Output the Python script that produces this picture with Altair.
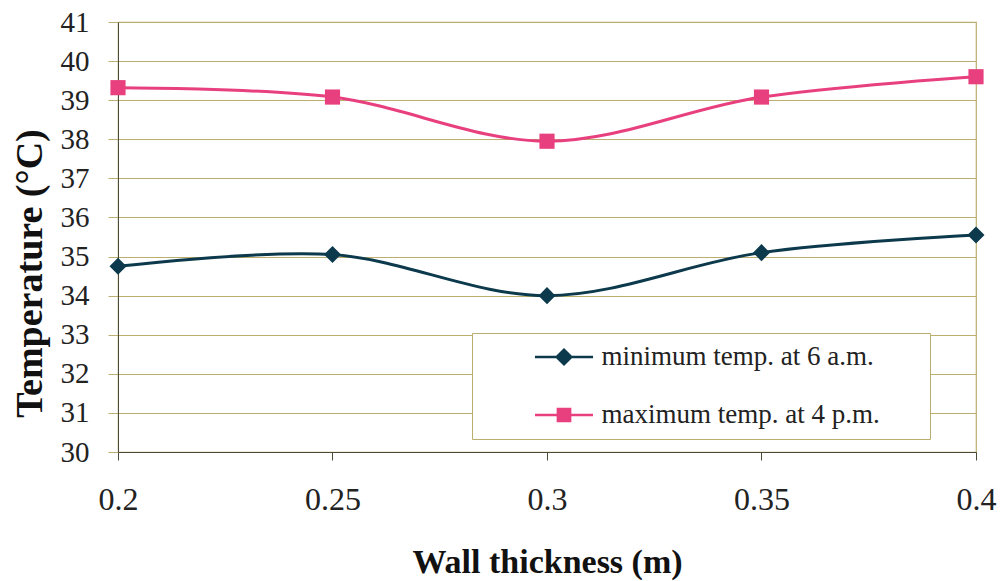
import altair as alt
import pandas as pd

thickness = [0.2, 0.25, 0.3, 0.35, 0.4]
min_temp = [34.75, 35.05, 34.0, 35.1, 35.55]
max_temp = [39.32, 39.08, 37.95, 39.08, 39.6]
series_names = ["minimum temp. at 6 a.m.", "maximum temp. at 4 p.m."]
colors = ["#0c3a4c", "#e8407e"]
x_ticks = [0.2, 0.25, 0.3, 0.35, 0.4]
y_ticks = list(range(30, 42))

rows = []
for x, v in zip(thickness, min_temp):
    rows.append({"x": x, "value": v, "series": series_names[0]})
for x, v in zip(thickness, max_temp):
    rows.append({"x": x, "value": v, "series": series_names[1]})
df = pd.DataFrame(rows)

FONT = "Liberation Serif"
GRID = "#bcae6e"
AX = "#4a4a3a"

xaxis = alt.Axis(values=x_ticks, format="~g", title="Wall thickness (m)",
                 grid=False, domainColor=AX, tickColor=AX, tickSize=8,
                 labelFontSize=32, labelFont=FONT, labelColor="#222",
                 labelPadding=24, labelFlush=False, labelOverlap=False,
                 titleFont=FONT, titleFontSize=34, titleFontWeight="bold",
                 titleColor="#111", titlePadding=30)
yaxis = alt.Axis(values=y_ticks, title="Temperature (°C)",
                 grid=True, gridColor=GRID, gridWidth=1.2,
                 domainColor=AX, tickColor=GRID, tickSize=10,
                 labelFontSize=29, labelFont=FONT, labelColor="#222",
                 labelPadding=19, labelOverlap=False,
                 titleFont=FONT, titleFontSize=38, titleFontWeight="bold",
                 titleColor="#111", titlePadding=11, titleY=251)

xenc = alt.X("x:Q", scale=alt.Scale(domain=[0.2, 0.4], nice=False, zero=False), axis=xaxis)
yenc = alt.Y("value:Q", scale=alt.Scale(domain=[30, 41], nice=False, zero=False), axis=yaxis)

base = alt.Chart(df)
df_min = base.transform_filter(alt.datum.series == series_names[0])
df_max = base.transform_filter(alt.datum.series == series_names[1])

line_min = df_min.mark_line(interpolate="catmull-rom", strokeWidth=3, color=colors[0]).encode(x=xenc, y=yenc)
line_max = df_max.mark_line(interpolate="catmull-rom", strokeWidth=3, color=colors[1]).encode(x=xenc, y=yenc)

pts_min = df_min.mark_point(shape="diamond", filled=True, opacity=1, size=290,
                            color=colors[0]).encode(x=xenc, y=yenc)
pts_max = df_max.mark_point(shape="square", filled=True, opacity=1, size=230,
                            color=colors[1]).encode(x=xenc, y=yenc)

diamond_path = "M-3.35,-0.15L3.35,-0.15L3.35,0.15L-3.35,0.15Z M0,-1.05L1.05,0L0,1.05L-1.05,0Z"
square_path = "M-3.35,-0.15L3.35,-0.15L3.35,0.15L-3.35,0.15Z M-0.85,-0.85L0.85,-0.85L0.85,0.85L-0.85,0.85Z"

legend = alt.Legend(
    title="_", titleOrient="right", titleColor="white", titleFontSize=8,
    titlePadding=36,
    orient="none", legendX=354, legendY=311,
    fillColor="white", strokeColor=GRID, padding=10.5,
    symbolSize=300, symbolOffset=68, labelOffset=24,
    labelFont=FONT, labelFontSize=27, labelColor="#222",
    rowPadding=30, labelLimit=700, symbolStrokeWidth=0, symbolOpacity=1,
)

leg_layer = base.mark_point(filled=True, opacity=0).encode(
    x=xenc, y=yenc,
    color=alt.Color("series:N", scale=alt.Scale(domain=series_names, range=colors),
                    legend=legend),
    shape=alt.Shape("series:N", scale=alt.Scale(domain=series_names,
                                                range=[diamond_path, square_path]),
                    legend=legend),
)

chart = alt.layer(line_min, line_max, pts_min, pts_max, leg_layer).properties(
    width=858, height=430,
    autosize=alt.AutoSizeParams(type="none"),
    padding={"left": 118, "top": 22, "right": 30, "bottom": 129},
    background="white",
).configure(font=FONT).configure_axis(labelFont=FONT, titleFont=FONT).configure_legend(
    labelFont=FONT
).configure_view(stroke=GRID, strokeWidth=1.2)

chart.save("out.html", embed_options={"renderer": "svg", "actions": False})
